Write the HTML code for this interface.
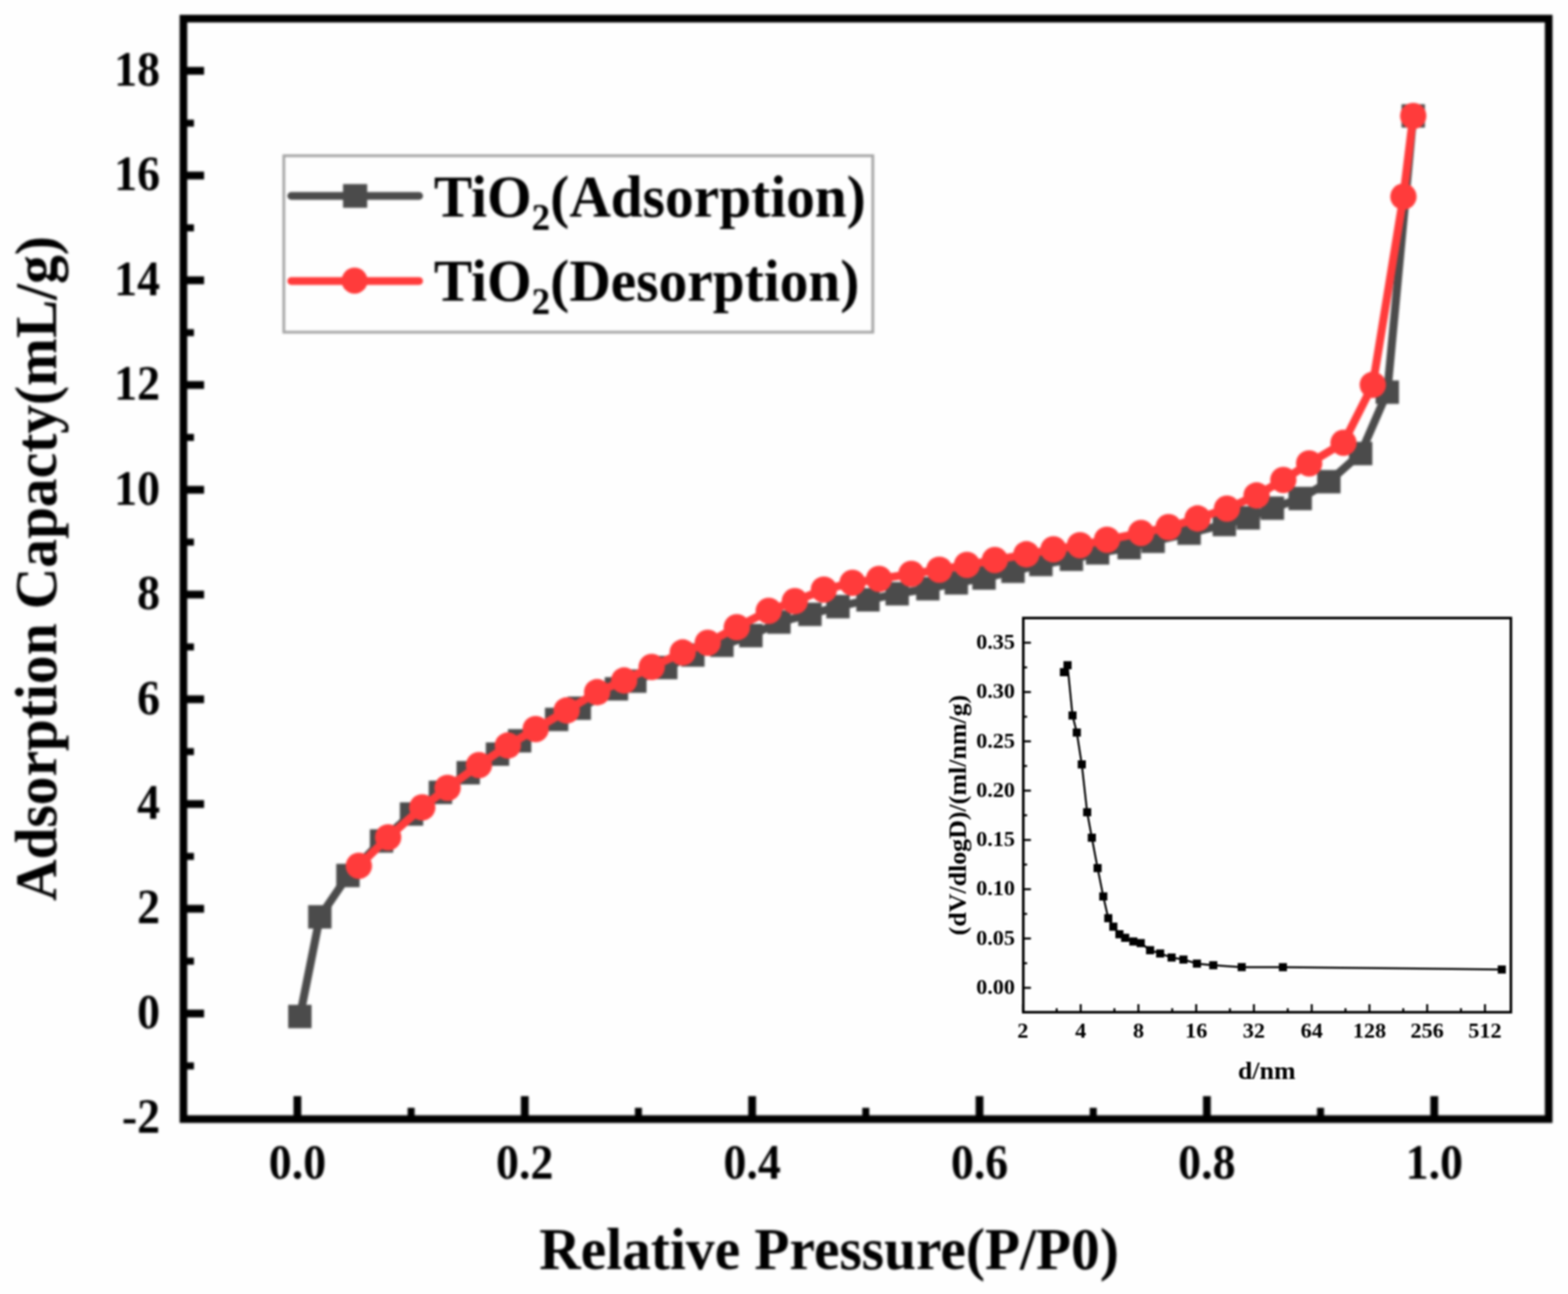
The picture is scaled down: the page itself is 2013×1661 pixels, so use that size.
<!DOCTYPE html>
<html lang="en"><head><meta charset="utf-8"><title>TiO2 adsorption-desorption isotherm</title>
<style>
html,body{margin:0;padding:0;background:#fff;}
body{width:2013px;height:1661px;overflow:hidden;}
svg{display:block;font-family:"Liberation Serif","DejaVu Serif",serif;font-weight:bold;fill:#000;}
.tk{font-size:59px;}
.ti{font-size:73.7px;}
.itk{font-size:28.5px;}
.iti{font-size:33.3px;}
</style></head><body>
<svg width="2013" height="1661" viewBox="0 0 2013 1661">
<defs>
<filter id="soft" filterUnits="userSpaceOnUse" x="0" y="0" width="2013" height="1661" color-interpolation-filters="sRGB"><feGaussianBlur stdDeviation="1.4"/></filter>
<filter id="soft2" filterUnits="userSpaceOnUse" x="0" y="0" width="2013" height="1661" color-interpolation-filters="sRGB"><feGaussianBlur stdDeviation="0.9"/></filter>
</defs>
<rect x="0" y="0" width="2013" height="1661" fill="#fefefe"/>
<g filter="url(#soft)">
<rect x="-20" y="-20" width="2053" height="1701" fill="#fefefe"/>
<g stroke="#000" stroke-width="10" fill="none">
<line x1="235.5" y1="1368.2" x2="249.0" y2="1368.2" stroke-width="9"/>
<line x1="235.5" y1="1301.0" x2="262.0" y2="1301.0"/>
<line x1="235.5" y1="1233.8" x2="249.0" y2="1233.8" stroke-width="9"/>
<line x1="235.5" y1="1166.5" x2="262.0" y2="1166.5"/>
<line x1="235.5" y1="1099.3" x2="249.0" y2="1099.3" stroke-width="9"/>
<line x1="235.5" y1="1032.1" x2="262.0" y2="1032.1"/>
<line x1="235.5" y1="964.8" x2="249.0" y2="964.8" stroke-width="9"/>
<line x1="235.5" y1="897.6" x2="262.0" y2="897.6"/>
<line x1="235.5" y1="830.4" x2="249.0" y2="830.4" stroke-width="9"/>
<line x1="235.5" y1="763.2" x2="262.0" y2="763.2"/>
<line x1="235.5" y1="695.9" x2="249.0" y2="695.9" stroke-width="9"/>
<line x1="235.5" y1="628.7" x2="262.0" y2="628.7"/>
<line x1="235.5" y1="561.5" x2="249.0" y2="561.5" stroke-width="9"/>
<line x1="235.5" y1="494.2" x2="262.0" y2="494.2"/>
<line x1="235.5" y1="427.0" x2="249.0" y2="427.0" stroke-width="9"/>
<line x1="235.5" y1="359.8" x2="262.0" y2="359.8"/>
<line x1="235.5" y1="292.5" x2="249.0" y2="292.5" stroke-width="9"/>
<line x1="235.5" y1="225.3" x2="262.0" y2="225.3"/>
<line x1="235.5" y1="158.1" x2="249.0" y2="158.1" stroke-width="9"/>
<line x1="235.5" y1="90.9" x2="262.0" y2="90.9"/>
<line x1="381.8" y1="1436.5" x2="381.8" y2="1407.0"/>
<line x1="527.8" y1="1436.5" x2="527.8" y2="1422.0" stroke-width="9"/>
<line x1="673.7" y1="1436.5" x2="673.7" y2="1407.0"/>
<line x1="819.6" y1="1436.5" x2="819.6" y2="1422.0" stroke-width="9"/>
<line x1="965.6" y1="1436.5" x2="965.6" y2="1407.0"/>
<line x1="1111.5" y1="1436.5" x2="1111.5" y2="1422.0" stroke-width="9"/>
<line x1="1257.5" y1="1436.5" x2="1257.5" y2="1407.0"/>
<line x1="1403.5" y1="1436.5" x2="1403.5" y2="1422.0" stroke-width="9"/>
<line x1="1549.4" y1="1436.5" x2="1549.4" y2="1407.0"/>
<line x1="1695.3" y1="1436.5" x2="1695.3" y2="1422.0" stroke-width="9"/>
<line x1="1841.3" y1="1436.5" x2="1841.3" y2="1407.0"/>
</g>
<rect x="235.5" y="23.9" width="1752.7" height="1412.6" fill="none" stroke="#000" stroke-width="9.8"/>
<text class="tk" text-anchor="end" transform="translate(205.6 1454.4) scale(1 1.075)">-2</text>
<text class="tk" text-anchor="end" transform="translate(205.6 1319.9) scale(1 1.075)">0</text>
<text class="tk" text-anchor="end" transform="translate(205.6 1185.4) scale(1 1.075)">2</text>
<text class="tk" text-anchor="end" transform="translate(205.6 1051.0) scale(1 1.075)">4</text>
<text class="tk" text-anchor="end" transform="translate(205.6 916.5) scale(1 1.075)">6</text>
<text class="tk" text-anchor="end" transform="translate(205.6 782.1) scale(1 1.075)">8</text>
<text class="tk" text-anchor="end" transform="translate(205.6 647.6) scale(1 1.075)">10</text>
<text class="tk" text-anchor="end" transform="translate(205.6 513.1) scale(1 1.075)">12</text>
<text class="tk" text-anchor="end" transform="translate(205.6 378.7) scale(1 1.075)">14</text>
<text class="tk" text-anchor="end" transform="translate(205.6 244.2) scale(1 1.075)">16</text>
<text class="tk" text-anchor="end" transform="translate(205.6 109.8) scale(1 1.075)">18</text>
<text class="tk" text-anchor="middle" transform="translate(381.8 1513.4) scale(1 1.075)">0.0</text>
<text class="tk" text-anchor="middle" transform="translate(673.7 1513.4) scale(1 1.075)">0.2</text>
<text class="tk" text-anchor="middle" transform="translate(965.6 1513.4) scale(1 1.075)">0.4</text>
<text class="tk" text-anchor="middle" transform="translate(1257.5 1513.4) scale(1 1.075)">0.6</text>
<text class="tk" text-anchor="middle" transform="translate(1549.4 1513.4) scale(1 1.075)">0.8</text>
<text class="tk" text-anchor="middle" transform="translate(1841.3 1513.4) scale(1 1.075)">1.0</text>
<text class="ti" text-anchor="middle" transform="translate(1064.4 1629.0) scale(1 1.040)">Relative Pressure(P/P0)</text>
<text class="ti" text-anchor="middle" transform="translate(71.8 729.8) rotate(-90) scale(1 1.040)">Adsorption Capacty(mL/g)</text>
<polyline points="385.0,1304.8 410.6,1176.9 446.7,1123.8 489.8,1079.5 528.3,1044.9 565.4,1017.1 601.1,991.9 638.7,968.0 667.1,950.9 714.6,923.5 743.7,909.1 791.4,884.2 815.0,874.3 854.7,856.9 889.5,840.8 926.8,828.3 964.0,815.9 1000.0,798.5 1039.8,788.6 1075.8,778.7 1114.3,770.0 1151.8,762.2 1191.2,755.7 1227.7,748.2 1263.3,742.0 1300.5,733.3 1336.3,724.6 1375.5,717.9 1409.1,709.7 1449.6,703.0 1480.4,694.8 1526.6,684.4 1571.8,673.3 1602.6,664.8 1633.5,652.3 1669.2,639.9 1706.0,618.3 1746.8,582.2 1781.0,503.4 1814.3,148.8" fill="none" stroke="#4b4b4b" stroke-width="10.4" stroke-linejoin="round"/>
<g fill="#4b4b4b">
<rect x="370.0" y="1289.8" width="30.0" height="30.0"/>
<rect x="395.6" y="1161.9" width="30.0" height="30.0"/>
<rect x="431.7" y="1108.8" width="30.0" height="30.0"/>
<rect x="474.8" y="1064.5" width="30.0" height="30.0"/>
<rect x="513.3" y="1029.9" width="30.0" height="30.0"/>
<rect x="550.4" y="1002.1" width="30.0" height="30.0"/>
<rect x="586.1" y="976.9" width="30.0" height="30.0"/>
<rect x="623.7" y="953.0" width="30.0" height="30.0"/>
<rect x="652.1" y="935.9" width="30.0" height="30.0"/>
<rect x="699.6" y="908.5" width="30.0" height="30.0"/>
<rect x="728.7" y="894.1" width="30.0" height="30.0"/>
<rect x="776.4" y="869.2" width="30.0" height="30.0"/>
<rect x="800.0" y="859.3" width="30.0" height="30.0"/>
<rect x="839.7" y="841.9" width="30.0" height="30.0"/>
<rect x="874.5" y="825.8" width="30.0" height="30.0"/>
<rect x="911.8" y="813.3" width="30.0" height="30.0"/>
<rect x="949.0" y="800.9" width="30.0" height="30.0"/>
<rect x="985.0" y="783.5" width="30.0" height="30.0"/>
<rect x="1024.8" y="773.6" width="30.0" height="30.0"/>
<rect x="1060.8" y="763.7" width="30.0" height="30.0"/>
<rect x="1099.3" y="755.0" width="30.0" height="30.0"/>
<rect x="1136.8" y="747.2" width="30.0" height="30.0"/>
<rect x="1176.2" y="740.7" width="30.0" height="30.0"/>
<rect x="1212.7" y="733.2" width="30.0" height="30.0"/>
<rect x="1248.3" y="727.0" width="30.0" height="30.0"/>
<rect x="1285.5" y="718.3" width="30.0" height="30.0"/>
<rect x="1321.3" y="709.6" width="30.0" height="30.0"/>
<rect x="1360.5" y="702.9" width="30.0" height="30.0"/>
<rect x="1394.1" y="694.7" width="30.0" height="30.0"/>
<rect x="1434.6" y="688.0" width="30.0" height="30.0"/>
<rect x="1465.4" y="679.8" width="30.0" height="30.0"/>
<rect x="1511.6" y="669.4" width="30.0" height="30.0"/>
<rect x="1556.8" y="658.3" width="30.0" height="30.0"/>
<rect x="1587.6" y="649.8" width="30.0" height="30.0"/>
<rect x="1618.5" y="637.3" width="30.0" height="30.0"/>
<rect x="1654.2" y="624.9" width="30.0" height="30.0"/>
<rect x="1691.0" y="603.3" width="30.0" height="30.0"/>
<rect x="1731.8" y="567.2" width="30.0" height="30.0"/>
<rect x="1766.0" y="488.4" width="30.0" height="30.0"/>
<rect x="1799.3" y="133.8" width="30.0" height="30.0"/>
</g>
<polyline points="460.7,1111.4 498.3,1074.8 542.1,1036.4 574.6,1011.3 614.9,982.1 652.0,957.0 687.7,935.8 727.5,912.0 766.6,888.5 801.3,873.5 836.6,856.2 876.4,837.5 908.6,825.1 945.9,805.2 986.9,784.1 1020.4,771.7 1057.7,756.8 1094.4,748.1 1128.5,743.1 1170.0,736.6 1205.9,731.3 1241.4,725.1 1277.2,718.9 1317.7,711.5 1352.4,705.2 1386.5,699.8 1421.2,692.8 1464.9,684.1 1500.2,676.7 1537.5,665.5 1575.2,652.9 1613.2,636.0 1647.5,616.1 1680.7,594.8 1724.8,568.4 1762.4,494.0 1801.7,252.4 1814.3,148.8" fill="none" stroke="#ff3b3b" stroke-width="10.4" stroke-linejoin="round"/>
<g fill="#ff3b3b">
<circle cx="460.7" cy="1111.4" r="16.9"/>
<circle cx="498.3" cy="1074.8" r="16.9"/>
<circle cx="542.1" cy="1036.4" r="16.9"/>
<circle cx="574.6" cy="1011.3" r="16.9"/>
<circle cx="614.9" cy="982.1" r="16.9"/>
<circle cx="652.0" cy="957.0" r="16.9"/>
<circle cx="687.7" cy="935.8" r="16.9"/>
<circle cx="727.5" cy="912.0" r="16.9"/>
<circle cx="766.6" cy="888.5" r="16.9"/>
<circle cx="801.3" cy="873.5" r="16.9"/>
<circle cx="836.6" cy="856.2" r="16.9"/>
<circle cx="876.4" cy="837.5" r="16.9"/>
<circle cx="908.6" cy="825.1" r="16.9"/>
<circle cx="945.9" cy="805.2" r="16.9"/>
<circle cx="986.9" cy="784.1" r="16.9"/>
<circle cx="1020.4" cy="771.7" r="16.9"/>
<circle cx="1057.7" cy="756.8" r="16.9"/>
<circle cx="1094.4" cy="748.1" r="16.9"/>
<circle cx="1128.5" cy="743.1" r="16.9"/>
<circle cx="1170.0" cy="736.6" r="16.9"/>
<circle cx="1205.9" cy="731.3" r="16.9"/>
<circle cx="1241.4" cy="725.1" r="16.9"/>
<circle cx="1277.2" cy="718.9" r="16.9"/>
<circle cx="1317.7" cy="711.5" r="16.9"/>
<circle cx="1352.4" cy="705.2" r="16.9"/>
<circle cx="1386.5" cy="699.8" r="16.9"/>
<circle cx="1421.2" cy="692.8" r="16.9"/>
<circle cx="1464.9" cy="684.1" r="16.9"/>
<circle cx="1500.2" cy="676.7" r="16.9"/>
<circle cx="1537.5" cy="665.5" r="16.9"/>
<circle cx="1575.2" cy="652.9" r="16.9"/>
<circle cx="1613.2" cy="636.0" r="16.9"/>
<circle cx="1647.5" cy="616.1" r="16.9"/>
<circle cx="1680.7" cy="594.8" r="16.9"/>
<circle cx="1724.8" cy="568.4" r="16.9"/>
<circle cx="1762.4" cy="494.0" r="16.9"/>
<circle cx="1801.7" cy="252.4" r="16.9"/>
<circle cx="1814.3" cy="148.8" r="16.9"/>
</g>
<rect x="364.4" y="199.9" width="756.1" height="226.5" fill="#fefefe" stroke="#a6a6a6" stroke-width="3.6"/>
<line x1="374" y1="251.5" x2="538" y2="251.5" stroke="#4b4b4b" stroke-width="10" stroke-linecap="round"/>
<rect x="440.4" y="236.3" width="31" height="30.4" fill="#4b4b4b"/>
<line x1="374" y1="360.8" x2="538" y2="360.8" stroke="#ff3b3b" stroke-width="10" stroke-linecap="round"/>
<circle cx="455.2" cy="360.3" r="16.7" fill="#ff3b3b"/>
<text class="ti" transform="translate(557.0 277.5) scale(1 1.040)">TiO<tspan font-size="47.5px" dy="17">2</tspan><tspan dy="-17">(Adsorption)</tspan></text>
<text class="ti" transform="translate(557.0 385.5) scale(1 1.040)">TiO<tspan font-size="47.5px" dy="17">2</tspan><tspan dy="-17">(Desorption)</tspan></text>
</g>
<g filter="url(#soft2)">
<g stroke="#000" stroke-width="2.6" fill="none">
<line x1="1313.7" y1="1268.0" x2="1323.5" y2="1268.0"/>
<line x1="1313.7" y1="1204.7" x2="1323.5" y2="1204.7"/>
<line x1="1313.7" y1="1236.4" x2="1318.6" y2="1236.4"/>
<line x1="1313.7" y1="1141.4" x2="1323.5" y2="1141.4"/>
<line x1="1313.7" y1="1173.1" x2="1318.6" y2="1173.1"/>
<line x1="1313.7" y1="1078.2" x2="1323.5" y2="1078.2"/>
<line x1="1313.7" y1="1109.8" x2="1318.6" y2="1109.8"/>
<line x1="1313.7" y1="1014.9" x2="1323.5" y2="1014.9"/>
<line x1="1313.7" y1="1046.5" x2="1318.6" y2="1046.5"/>
<line x1="1313.7" y1="951.6" x2="1323.5" y2="951.6"/>
<line x1="1313.7" y1="983.2" x2="1318.6" y2="983.2"/>
<line x1="1313.7" y1="888.3" x2="1323.5" y2="888.3"/>
<line x1="1313.7" y1="920.0" x2="1318.6" y2="920.0"/>
<line x1="1313.7" y1="825.0" x2="1323.5" y2="825.0"/>
<line x1="1313.7" y1="856.7" x2="1318.6" y2="856.7"/>
<line x1="1313.2" y1="1299.3" x2="1313.2" y2="1289.0"/>
<line x1="1356.6" y1="1299.3" x2="1356.6" y2="1294.2"/>
<line x1="1387.4" y1="1299.3" x2="1387.4" y2="1289.0"/>
<line x1="1430.7" y1="1299.3" x2="1430.7" y2="1294.2"/>
<line x1="1461.5" y1="1299.3" x2="1461.5" y2="1289.0"/>
<line x1="1504.9" y1="1299.3" x2="1504.9" y2="1294.2"/>
<line x1="1535.7" y1="1299.3" x2="1535.7" y2="1289.0"/>
<line x1="1579.0" y1="1299.3" x2="1579.0" y2="1294.2"/>
<line x1="1609.8" y1="1299.3" x2="1609.8" y2="1289.0"/>
<line x1="1653.2" y1="1299.3" x2="1653.2" y2="1294.2"/>
<line x1="1684.0" y1="1299.3" x2="1684.0" y2="1289.0"/>
<line x1="1727.3" y1="1299.3" x2="1727.3" y2="1294.2"/>
<line x1="1758.1" y1="1299.3" x2="1758.1" y2="1289.0"/>
<line x1="1801.5" y1="1299.3" x2="1801.5" y2="1294.2"/>
<line x1="1832.2" y1="1299.3" x2="1832.2" y2="1289.0"/>
<line x1="1875.6" y1="1299.3" x2="1875.6" y2="1294.2"/>
<line x1="1906.4" y1="1299.3" x2="1906.4" y2="1289.0"/>
</g>
<rect x="1313.7" y="793.3" width="626.0" height="506.0" fill="none" stroke="#000" stroke-width="3.3"/>
<text class="itk" text-anchor="end" transform="translate(1303.0 1276.0) scale(1 0.950)">0.00</text>
<text class="itk" text-anchor="end" transform="translate(1303.0 1212.7) scale(1 0.950)">0.05</text>
<text class="itk" text-anchor="end" transform="translate(1303.0 1149.4) scale(1 0.950)">0.10</text>
<text class="itk" text-anchor="end" transform="translate(1303.0 1086.2) scale(1 0.950)">0.15</text>
<text class="itk" text-anchor="end" transform="translate(1303.0 1022.9) scale(1 0.950)">0.20</text>
<text class="itk" text-anchor="end" transform="translate(1303.0 959.6) scale(1 0.950)">0.25</text>
<text class="itk" text-anchor="end" transform="translate(1303.0 896.3) scale(1 0.950)">0.30</text>
<text class="itk" text-anchor="end" transform="translate(1303.0 833.0) scale(1 0.950)">0.35</text>
<text class="itk" text-anchor="middle" transform="translate(1313.2 1331.8) scale(1 0.950)">2</text>
<text class="itk" text-anchor="middle" transform="translate(1387.4 1331.8) scale(1 0.950)">4</text>
<text class="itk" text-anchor="middle" transform="translate(1461.5 1331.8) scale(1 0.950)">8</text>
<text class="itk" text-anchor="middle" transform="translate(1535.7 1331.8) scale(1 0.950)">16</text>
<text class="itk" text-anchor="middle" transform="translate(1609.8 1331.8) scale(1 0.950)">32</text>
<text class="itk" text-anchor="middle" transform="translate(1684.0 1331.8) scale(1 0.950)">64</text>
<text class="itk" text-anchor="middle" transform="translate(1758.1 1331.8) scale(1 0.950)">128</text>
<text class="itk" text-anchor="middle" transform="translate(1832.2 1331.8) scale(1 0.950)">256</text>
<text class="itk" text-anchor="middle" transform="translate(1906.4 1331.8) scale(1 0.950)">512</text>
<text class="iti" text-anchor="middle" transform="translate(1626.2 1385.2) scale(1 0.940)">d/nm</text>
<text class="iti" text-anchor="middle" transform="translate(1240.4 1046.3) rotate(-90) scale(1 0.960)">(dV/dlogD)/(ml/nm/g)</text>
<polyline points="1365.9,862.8 1370.5,853.9 1376.9,918.4 1382.4,940.3 1388.8,981.2 1395.7,1042.6 1401.7,1075.3 1409.1,1114.3 1416.4,1150.7 1422.8,1178.6 1429.3,1189.5 1437.1,1199.2 1444.5,1203.8 1455.0,1208.5 1464.5,1210.6 1476.5,1219.7 1489.4,1223.9 1504.1,1229.1 1519.3,1231.7 1536.6,1236.9 1557.6,1239.0 1594.1,1241.4 1647.0,1241.5 1928.0,1244.5" fill="none" stroke="#000" stroke-width="2.5" stroke-linejoin="round"/>
<g fill="#000">
<rect x="1360.7" y="857.6" width="10.4" height="10.4"/>
<rect x="1365.3" y="848.7" width="10.4" height="10.4"/>
<rect x="1371.7" y="913.2" width="10.4" height="10.4"/>
<rect x="1377.2" y="935.1" width="10.4" height="10.4"/>
<rect x="1383.6" y="976.0" width="10.4" height="10.4"/>
<rect x="1390.5" y="1037.4" width="10.4" height="10.4"/>
<rect x="1396.5" y="1070.1" width="10.4" height="10.4"/>
<rect x="1403.9" y="1109.1" width="10.4" height="10.4"/>
<rect x="1411.2" y="1145.5" width="10.4" height="10.4"/>
<rect x="1417.6" y="1173.4" width="10.4" height="10.4"/>
<rect x="1424.1" y="1184.3" width="10.4" height="10.4"/>
<rect x="1431.9" y="1194.0" width="10.4" height="10.4"/>
<rect x="1439.3" y="1198.6" width="10.4" height="10.4"/>
<rect x="1449.8" y="1203.3" width="10.4" height="10.4"/>
<rect x="1459.3" y="1205.4" width="10.4" height="10.4"/>
<rect x="1471.3" y="1214.5" width="10.4" height="10.4"/>
<rect x="1484.2" y="1218.7" width="10.4" height="10.4"/>
<rect x="1498.9" y="1223.9" width="10.4" height="10.4"/>
<rect x="1514.1" y="1226.5" width="10.4" height="10.4"/>
<rect x="1531.4" y="1231.7" width="10.4" height="10.4"/>
<rect x="1552.4" y="1233.8" width="10.4" height="10.4"/>
<rect x="1588.9" y="1236.2" width="10.4" height="10.4"/>
<rect x="1641.8" y="1236.3" width="10.4" height="10.4"/>
<rect x="1922.8" y="1239.3" width="10.4" height="10.4"/>
</g>
</g>
</svg>
</body></html>
